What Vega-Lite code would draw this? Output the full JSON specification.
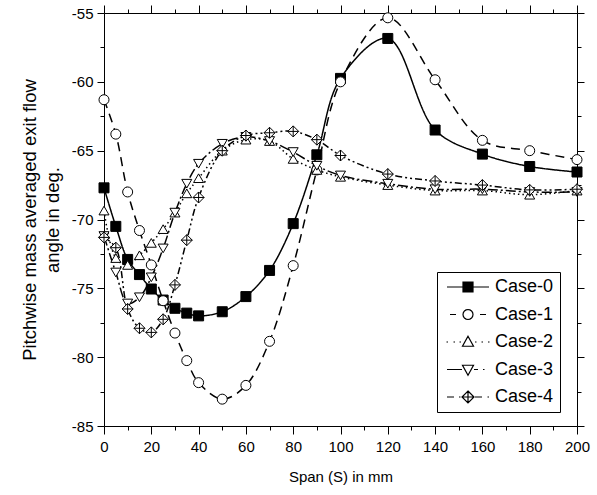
{
  "$schema": "https://vega.github.io/schema/vega-lite/v6.json",
  "width": 473,
  "height": 413,
  "autosize": {"type": "none"},
  "padding": {"left": 104, "top": 13, "right": 20, "bottom": 69},
  "background": "white",
  "config": {
    "view": {"stroke": null},
    "font": "Liberation Sans",
    "axis": {
      "grid": false,
      "domainColor": "black",
      "domainWidth": 1,
      "tickColor": "black",
      "tickWidth": 1,
      "labelColor": "black",
      "labelFont": "Liberation Sans",
      "labelFontSize": 15,
      "titleFont": "Liberation Sans",
      "titleFontSize": 15,
      "titleFontWeight": "normal",
      "titleColor": "black"
    }
  },
  "data": {
    "values": [
      {"s": "Case-0", "x": 0, "y": -67.7},
      {"s": "Case-0", "x": 5, "y": -70.5},
      {"s": "Case-0", "x": 10, "y": -72.9},
      {"s": "Case-0", "x": 15, "y": -74.0},
      {"s": "Case-0", "x": 20, "y": -75.05},
      {"s": "Case-0", "x": 25, "y": -75.85},
      {"s": "Case-0", "x": 30, "y": -76.45},
      {"s": "Case-0", "x": 35, "y": -76.8},
      {"s": "Case-0", "x": 40, "y": -77.0},
      {"s": "Case-0", "x": 50, "y": -76.7},
      {"s": "Case-0", "x": 60, "y": -75.6},
      {"s": "Case-0", "x": 70, "y": -73.7},
      {"s": "Case-0", "x": 80, "y": -70.3},
      {"s": "Case-0", "x": 90, "y": -65.3},
      {"s": "Case-0", "x": 100, "y": -59.75},
      {"s": "Case-0", "x": 120, "y": -56.85},
      {"s": "Case-0", "x": 140, "y": -63.5},
      {"s": "Case-0", "x": 160, "y": -65.25},
      {"s": "Case-0", "x": 180, "y": -66.15},
      {"s": "Case-0", "x": 200, "y": -66.55},
      {"s": "Case-1", "x": 0, "y": -61.3},
      {"s": "Case-1", "x": 5, "y": -63.8},
      {"s": "Case-1", "x": 10, "y": -68.0},
      {"s": "Case-1", "x": 15, "y": -70.8},
      {"s": "Case-1", "x": 20, "y": -73.3},
      {"s": "Case-1", "x": 25, "y": -75.9},
      {"s": "Case-1", "x": 30, "y": -78.25},
      {"s": "Case-1", "x": 35, "y": -80.25},
      {"s": "Case-1", "x": 40, "y": -81.85},
      {"s": "Case-1", "x": 50, "y": -83.05},
      {"s": "Case-1", "x": 60, "y": -82.05},
      {"s": "Case-1", "x": 70, "y": -78.85},
      {"s": "Case-1", "x": 80, "y": -73.35},
      {"s": "Case-1", "x": 90, "y": -66.4},
      {"s": "Case-1", "x": 100, "y": -60.0},
      {"s": "Case-1", "x": 120, "y": -55.35},
      {"s": "Case-1", "x": 140, "y": -59.85},
      {"s": "Case-1", "x": 160, "y": -64.25},
      {"s": "Case-1", "x": 180, "y": -65.0},
      {"s": "Case-1", "x": 200, "y": -65.65},
      {"s": "Case-2", "x": 0, "y": -69.35},
      {"s": "Case-2", "x": 5, "y": -72.8},
      {"s": "Case-2", "x": 10, "y": -73.3},
      {"s": "Case-2", "x": 15, "y": -72.6},
      {"s": "Case-2", "x": 20, "y": -71.7},
      {"s": "Case-2", "x": 25, "y": -70.7},
      {"s": "Case-2", "x": 30, "y": -69.5},
      {"s": "Case-2", "x": 35, "y": -68.1},
      {"s": "Case-2", "x": 40, "y": -67.0},
      {"s": "Case-2", "x": 50, "y": -65.0},
      {"s": "Case-2", "x": 60, "y": -64.2},
      {"s": "Case-2", "x": 70, "y": -64.3},
      {"s": "Case-2", "x": 80, "y": -65.6},
      {"s": "Case-2", "x": 90, "y": -66.4},
      {"s": "Case-2", "x": 100, "y": -66.9},
      {"s": "Case-2", "x": 120, "y": -67.5},
      {"s": "Case-2", "x": 140, "y": -67.9},
      {"s": "Case-2", "x": 160, "y": -67.9},
      {"s": "Case-2", "x": 180, "y": -68.2},
      {"s": "Case-2", "x": 200, "y": -67.9},
      {"s": "Case-3", "x": 0, "y": -71.2},
      {"s": "Case-3", "x": 5, "y": -73.85},
      {"s": "Case-3", "x": 10, "y": -76.1},
      {"s": "Case-3", "x": 15, "y": -75.65},
      {"s": "Case-3", "x": 20, "y": -74.2},
      {"s": "Case-3", "x": 25, "y": -72.1},
      {"s": "Case-3", "x": 30, "y": -69.5},
      {"s": "Case-3", "x": 35, "y": -67.4},
      {"s": "Case-3", "x": 40, "y": -65.95},
      {"s": "Case-3", "x": 50, "y": -64.5},
      {"s": "Case-3", "x": 60, "y": -64.0},
      {"s": "Case-3", "x": 70, "y": -64.3},
      {"s": "Case-3", "x": 80, "y": -65.1},
      {"s": "Case-3", "x": 90, "y": -66.1},
      {"s": "Case-3", "x": 100, "y": -66.8},
      {"s": "Case-3", "x": 120, "y": -67.4},
      {"s": "Case-3", "x": 140, "y": -67.8},
      {"s": "Case-3", "x": 160, "y": -67.8},
      {"s": "Case-3", "x": 180, "y": -68.0},
      {"s": "Case-3", "x": 200, "y": -68.0},
      {"s": "Case-4", "x": 0, "y": -71.3},
      {"s": "Case-4", "x": 5, "y": -72.05},
      {"s": "Case-4", "x": 10, "y": -76.5},
      {"s": "Case-4", "x": 15, "y": -77.9},
      {"s": "Case-4", "x": 20, "y": -78.2},
      {"s": "Case-4", "x": 25, "y": -77.25},
      {"s": "Case-4", "x": 30, "y": -74.75},
      {"s": "Case-4", "x": 35, "y": -71.5},
      {"s": "Case-4", "x": 40, "y": -68.4},
      {"s": "Case-4", "x": 50, "y": -65.0},
      {"s": "Case-4", "x": 60, "y": -63.9},
      {"s": "Case-4", "x": 70, "y": -63.7},
      {"s": "Case-4", "x": 80, "y": -63.6},
      {"s": "Case-4", "x": 90, "y": -64.2},
      {"s": "Case-4", "x": 100, "y": -65.35},
      {"s": "Case-4", "x": 120, "y": -66.7},
      {"s": "Case-4", "x": 140, "y": -67.2},
      {"s": "Case-4", "x": 160, "y": -67.5},
      {"s": "Case-4", "x": 180, "y": -67.85},
      {"s": "Case-4", "x": 200, "y": -67.8}
    ]
  },
  "resolve": {"scale": {"shape": "independent"}},
  "layer": [
    {
      "mark": {"type": "line", "interpolate": "catmull-rom", "stroke": "black", "strokeWidth": 1.5},
      "encoding": {
        "x": {
          "field": "x", "type": "quantitative",
          "scale": {"domain": [0, 200], "nice": false, "zero": false},
          "axis": {
            "orient": "bottom",
            "title": "Span (S) in mm",
            "titlePadding": 15,
            "values": [0,10,20,30,40,50,60,70,80,90,100,110,120,130,140,150,160,170,180,190,200],
            "labelExpr": "datum.value % 20 === 0 ? '' + datum.value : ''",
            "tickSize": {"condition": {"test": "datum.value % 20 === 0", "value": 8}, "value": 4},
            "labelPadding": 5,
            "labelFlush": false,
            "labelOverlap": false
          }
        },
        "y": {
          "field": "y", "type": "quantitative",
          "scale": {"domain": [-85, -55], "nice": false, "zero": false},
          "axis": {
            "orient": "left",
            "title": ["Pitchwise mass averaged exit flow", "angle in deg."],
            "titleFontSize": 18.5,
            "titlePadding": 9,
            "titleLineHeight": 23,
            "values": [-85,-82.5,-80,-77.5,-75,-72.5,-70,-67.5,-65,-62.5,-60,-57.5,-55],
            "labelExpr": "datum.value % 5 === 0 ? '' + datum.value : ''",
            "tickSize": {"condition": {"test": "datum.value % 5 === 0", "value": 7}, "value": 4},
            "labelPadding": 4,
            "labelFlush": false,
            "labelOverlap": false
          }
        },
        "detail": {"field": "s", "type": "nominal"},
        "strokeDash": {
          "condition": [
            {"test": "datum.s === 'Case-1'", "value": [9, 6]},
            {"test": "datum.s === 'Case-2'", "value": [1.5, 3]},
            {"test": "datum.s === 'Case-3'", "value": [10, 3, 2, 3]},
            {"test": "datum.s === 'Case-4'", "value": [7, 3, 2, 3, 2, 3]}
          ],
          "value": [1, 0]
        }
      }
    },
    {
      "mark": {"type": "point", "filled": true, "stroke": "black", "strokeWidth": 1, "size": 100, "opacity": 1},
      "encoding": {
        "x": {
          "field": "x", "type": "quantitative",
          "axis": {
            "orient": "top", "title": null, "labels": false,
            "values": [0,10,20,30,40,50,60,70,80,90,100,110,120,130,140,150,160,170,180,190,200],
            "tickSize": {"condition": {"test": "datum.value % 20 === 0", "value": 8}, "value": 4}
          }
        },
        "y": {
          "field": "y", "type": "quantitative",
          "axis": {
            "orient": "right", "title": null, "labels": false,
            "values": [-85,-82.5,-80,-77.5,-75,-72.5,-70,-67.5,-65,-62.5,-60,-57.5,-55],
            "tickSize": {"condition": {"test": "datum.value % 5 === 0", "value": 7}, "value": 4}
          }
        },
        "shape": {
          "field": "s", "type": "nominal",
          "scale": {
            "domain": ["Case-0", "Case-1", "Case-2", "Case-3", "Case-4"],
            "range": ["square", "circle", "triangle-up", "triangle-down", "M0,-1.1L1.1,0L0,1.1L-1.1,0ZM0,-1.1V1.1M-1.1,0H1.1"]
          },
          "legend": null
        },
        "fill": {
          "condition": {"test": "datum.s === 'Case-0'", "value": "black"},
          "value": "white"
        }
      }
    },
    {
      "transform": [{"filter": "false"}],
      "mark": {"type": "point", "filled": false, "stroke": "black", "strokeWidth": 1.2, "size": 100, "opacity": 1},
      "encoding": {
        "x": {"field": "x", "type": "quantitative", "axis": null},
        "y": {"field": "y", "type": "quantitative", "axis": null},
        "shape": {
          "field": "s", "type": "nominal",
          "scale": {
            "domain": ["Case-0", "Case-1", "Case-2", "Case-3", "Case-4"],
            "range": [
              "M-4.2,0H4.2M-1,-1H1V1H-1ZM-1,-0.8H1M-1,-0.6H1M-1,-0.4H1M-1,-0.2H1M-1,0.2H1M-1,0.4H1M-1,0.6H1M-1,0.8H1",
              "M-3.6,0H-2.4M2.4,0H3.6M1,0L0.924,0.383L0.707,0.707L0.383,0.924L0,1L-0.383,0.924L-0.707,0.707L-0.924,0.383L-1,0L-0.924,-0.383L-0.707,-0.707L-0.383,-0.924L0,-1L0.383,-0.924L0.707,-0.707L0.924,-0.383Z",
              "M-4.3,0H-4M-2.9,0H-2.6M-1.7,0H-1.4M1.4,0H1.7M2.7,0H3M4,0H4.3M0,-1.15L1.1,0.85L-1.1,0.85Z",
              "M-4.2,0H-1.2M1.2,0H2M3,0H3.3M0,1.15L1.1,-0.85L-1.1,-0.85Z",
              "M-4.2,0H-2.8M-1.8,0H-1.5M1.4,0H2.8M3.9,0H4.2M0,-1.2L1.2,0L0,1.2L-1.2,0ZM0,-1.2V1.2M-1.2,0H1.2"
            ]
          },
          "legend": {
            "title": null,
            "orient": "none",
            "legendX": 333,
            "legendY": 259,
            "padding": 6,
            "rowPadding": 9.5,
            "strokeColor": "black",
            "fillColor": "white",
            "labelFont": "Liberation Sans",
            "labelFontSize": 18,
            "labelColor": "black",
            "symbolSize": 100,
            "symbolStrokeWidth": 1.2,
            "symbolStrokeColor": "black",
            "symbolOffset": 16,
            "labelOffset": 18
          }
        }
      }
    }
  ]
}
